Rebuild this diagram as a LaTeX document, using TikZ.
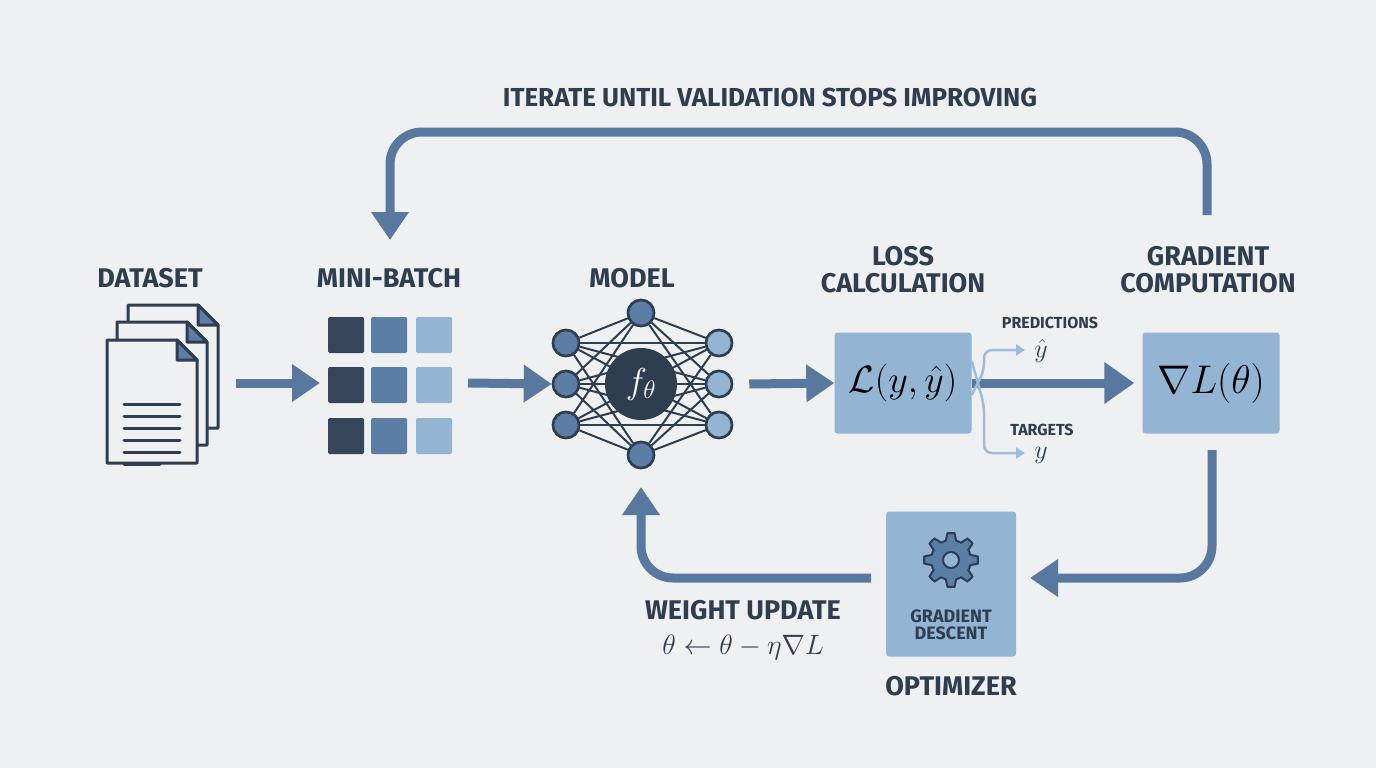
\documentclass[tikz,border=0pt]{standalone}
\usepackage{fix-cm}
\usepackage{amsmath,amssymb}
\usepackage{fontspec}
\setmainfont{Fira Sans}
\usetikzlibrary{arrows.meta,positioning,calc}
\definecolor{bgc}{HTML}{EEF0F1}
\definecolor{ink}{HTML}{2E3D50}
\definecolor{flow}{HTML}{5878A0}
\definecolor{boxc}{HTML}{93B5D3}
\definecolor{pale}{HTML}{9DBDDA}
\definecolor{midb}{HTML}{5A7EA5}
\definecolor{darkb}{HTML}{36465A}
\tikzset{
  head/.style = {font=\fontsize{27}{31}\selectfont\bfseries, text=ink, align=center},
  flowarrow/.style = {draw=flow, line width=9pt, -{Triangle[length=28pt,width=36pt]}},
  thinarrow/.style = {draw=pale, line width=2.5pt, -{Triangle[length=9pt,width=11pt]}},
  mathbox/.style = {fill=boxc, rounded corners=3pt, minimum width=137pt, minimum height=101pt, inner sep=0pt},
  cell/.style = {minimum size=36pt, inner sep=0pt, rounded corners=1.5pt},
  neuron/.style = {circle, draw=ink, line width=2.5pt, minimum size=26pt, inner sep=0pt},
  page/.style = {draw=ink, line width=3pt, fill=bgc, line join=round}
}
\newcommand{\docpage}[2]{% top-left x, y
  \draw[page] (#1,#2) -- ++(70,0) -- ++(20,20) -- ++(0,103) -- ++(-90,0) -- cycle;
  \draw[page, fill=midb] (#1+70,#2) -- ++(0,20) -- ++(20,0) -- cycle;
}
\begin{document}
\begin{tikzpicture}[x=1pt,y=-1pt]
  \fill[bgc] (0,0) rectangle (1376,768);
  \useasboundingbox (0,0) rectangle (1376,768);

  % titles
  \node[head, font=\fontsize{26}{30}\selectfont\bfseries] (loop) at (770,97) {ITERATE UNTIL VALIDATION STOPS IMPROVING};
  \node[head] (dataset) at (150,278) {DATASET};
  \node[head] (batch) at (389,278) {MINI-BATCH};
  \node[head] (model) at (632,278) {MODEL};
  \node[head] (loss) at (903,270) {LOSS\\[-4pt]CALCULATION};
  \node[head] (grad) at (1208,270) {GRADIENT\\[-4pt]COMPUTATION};

  % dataset icon
  \docpage{128}{305}
  \docpage{117}{322}
  \docpage{107}{340}
  \foreach \y/\w in {0/56,12/56,24/56,36/56,48/56,60/36}
    \draw[ink, line width=3pt, line cap=round] (124,404+\y) -- ++(\w,0);
  \coordinate (docs) at (198,383);

  % mini-batch grid
  \foreach \c/\x in {darkb/346, midb/389, boxc/434}
    \foreach \y in {335,385,436}
      \node[cell, fill=\c] at (\x,\y) {};
  \coordinate (gridin) at (320,383);
  \coordinate (gridout) at (458,383);

  % model network
  \node[neuron, fill=midb] (top) at (641,313) {};
  \node[neuron, fill=midb] (bot) at (641,455) {};
  \foreach \i/\y in {1/343,2/384,3/425} {
    \node[neuron, fill=midb] (l\i) at (566,\y) {};
    \node[neuron, fill=boxc] (r\i) at (719,\y) {};
  }
  \foreach \i in {1,2,3} {
    \draw[ink, line width=2pt] (l\i) -- (top);
    \draw[ink, line width=2pt] (l\i) -- (bot);
    \draw[ink, line width=2pt] (r\i) -- (top);
    \draw[ink, line width=2pt] (r\i) -- (bot);
    \foreach \j in {1,2,3}
      \draw[ink, line width=2pt] (l\i) -- (r\j);
  }
  \node[circle, fill=ink, minimum size=72pt, inner sep=0pt, text=white, font=\fontsize{36}{38}\selectfont] (f) at (641,384) {$f_\theta$};
  \foreach \n in {top,bot,l1,l2,l3} \node[neuron, fill=midb] at (\n) {};
  \foreach \n in {r1,r2,r3} \node[neuron, fill=boxc] at (\n) {};

  % loss and gradient boxes
  \node[mathbox, font=\fontsize{38}{40}\selectfont] (lossbox) at (903,383) {$\mathcal{L}(y,\hat{y})$};
  \node[mathbox, font=\fontsize{40}{42}\selectfont] (gradbox) at (1211,383) {$\nabla L(\theta)$};

  % optimizer
  \node[mathbox, minimum width=130pt, minimum height=145pt] (opt) at (951,584) {};
  \fill[midb, draw=ink, line width=2pt, even odd rule]
    plot[smooth cycle, tension=0.1, samples=48, domain=0:352.5, variable=\t]
      ({951+(mod(\t+11.25,45)<22.5 ? 27 : 20)*cos(\t)}, {560+(mod(\t+11.25,45)<22.5 ? 27 : 20)*sin(\t)})
    (951,560) circle (8);
  \node[head, font=\fontsize{18}{20}\selectfont\bfseries] (gd) at (951,625) {GRADIENT\\[-3pt]DESCENT};
  \node[head] (optlab) at (951,686) {OPTIMIZER};
  \node[head] (wu) at (743,610) {WEIGHT UPDATE};
  \node[text=ink, font=\fontsize{28}{30}\selectfont, inner sep=1pt] (rule) at (743,647) {$\theta \leftarrow \theta - \eta\nabla L$};

  % main flow
  \coordinate (loopstart) at (1207,215);
  \coordinate (loopend) at (390,240);
  \coordinate (gradout) at (1212,450);
  \coordinate (optin) at (1030,578);
  \coordinate (optout) at (871,578);
  \coordinate (modelin) at (641,487);
  \draw[flowarrow] (docs) ++(38,0) -- (gridin);
  \draw[flowarrow] (gridout) ++(10,0) -- (l2.west);
  \draw[flowarrow] (r2.east) ++(16,0) -- (lossbox.west);
  \draw[flowarrow, -{Triangle[length=30pt,width=40pt]}] (lossbox.east) -- ([xshift=-8pt]gradbox.west);
  \draw[flowarrow, rounded corners=32pt] (gradout) -- (1212,578) -- (optin);
  \draw[flowarrow, rounded corners=32pt] (optout) -- (641,578) -- (modelin);
  \draw[flowarrow, rounded corners=32pt] (loopstart) -- (1207,132) -- (390,132) -- (loopend);

  % side outputs
  \draw[thinarrow, rounded corners=8pt] ([yshift=-12pt]lossbox.east) -- (984,371) -- (984,350) -- (1025,350);
  \draw[thinarrow, rounded corners=8pt] ([yshift=22pt]lossbox.east) -- (984,405) -- (984,453) -- (1025,453);
  \node[head, font=\fontsize{16}{18}\selectfont\bfseries] (pred) at (1050,323) {PREDICTIONS};
  \node[text=ink, font=\fontsize{26}{28}\selectfont] (yhat) at (1041,351) {$\hat{y}$};
  \node[head, font=\fontsize{16}{18}\selectfont\bfseries] (targ) at (1042,430) {TARGETS};
  \node[text=ink, font=\fontsize{26}{28}\selectfont] (ylab) at (1041,455) {$y$};
\end{tikzpicture}
\end{document}
